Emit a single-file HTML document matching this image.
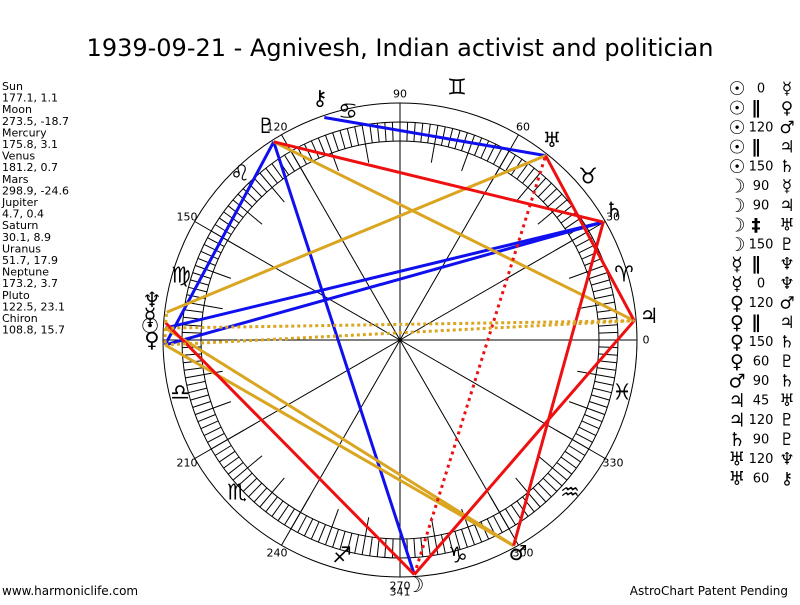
<!DOCTYPE html>
<html><head><meta charset="utf-8"><style>
body{margin:0;background:#fff;width:800px;height:600px;overflow:hidden;font-family:"Liberation Sans","DejaVu Sans",sans-serif}
</style></head><body>
<svg id="s" width="800" height="600" xmlns="http://www.w3.org/2000/svg" font-family="'DejaVu Sans','Liberation Sans',sans-serif">
<text x="400" y="56" font-size="24" text-anchor="middle" fill="#000">1939-09-21 - Agnivesh, Indian activist and politician</text>
<g font-size="11" fill="#000">
<text x="2" y="90">Sun</text><text x="2" y="101.6">177.1, 1.1</text>
<text x="2" y="113.2">Moon</text><text x="2" y="124.8">273.5, -18.7</text>
<text x="2" y="136.4">Mercury</text><text x="2" y="148">175.8, 3.1</text>
<text x="2" y="159.6">Venus</text><text x="2" y="171.2">181.2, 0.7</text>
<text x="2" y="182.8">Mars</text><text x="2" y="194.4">298.9, -24.6</text>
<text x="2" y="206">Jupiter</text><text x="2" y="217.6">4.7, 0.4</text>
<text x="2" y="229.2">Saturn</text><text x="2" y="240.8">30.1, 8.9</text>
<text x="2" y="252.4">Uranus</text><text x="2" y="264">51.7, 17.9</text>
<text x="2" y="275.6">Neptune</text><text x="2" y="287.2">173.2, 3.7</text>
<text x="2" y="298.8">Pluto</text><text x="2" y="310.4">122.5, 23.1</text>
<text x="2" y="322">Chiron</text><text x="2" y="333.6">108.8, 15.7</text>
<text x="2" y="595" font-size="12">www.harmoniclife.com</text>
<text x="788" y="595" font-size="12" text-anchor="end">AstroChart Patent Pending</text>
</g>
<g id="g"></g>
</svg>
<script>
var g=document.getElementById('g'),cx=400,cy=340,h='';
function P(a,r){a=a*Math.PI/180;return [cx+r*Math.cos(a),cy-r*Math.sin(a)];}
function L(a,b,c,w,d){h+='<line x1="'+a[0].toFixed(1)+'" y1="'+a[1].toFixed(1)+'" x2="'+b[0].toFixed(1)+'" y2="'+b[1].toFixed(1)+'" stroke="'+c+'" stroke-width="'+w+'"'+(d?' stroke-dasharray="'+d+'"':'')+'/>';}
function T(p,s,f,extra){h+='<text x="'+p[0].toFixed(1)+'" y="'+p[1].toFixed(1)+'" font-size="'+f+'" text-anchor="middle" dominant-baseline="central" '+(extra||'')+'>'+s+'</text>';}
h+='<circle cx="400" cy="340" r="237" fill="none" stroke="#000"/>';
h+='<circle cx="400" cy="340" r="218" fill="none" stroke="#000"/>';
h+='<circle cx="400" cy="340" r="199" fill="none" stroke="#000"/>';
for(var a=0;a<360;a+=2){ if(a%10==0) L(P(a,180),P(a,218),'#000',1); else L(P(a,199),P(a,218),'#000',1);}
for(var a=0;a<360;a+=30){L(P(a,0),P(a,237),'#000',1);
 if(a!=180) T(P(a,246),String(a),11,'fill="#000"');}
var signs=[['♈',624,275],['♉',588,177],['♊',457,88],['♋',348,112],['♌',240,174],['♍',181,276],['♎',180,393],['♏',237,493],['♐',342,556],['♑',458,556],['♒',570,493],['♓',622,393]];
signs.forEach(function(x){T([x[1],x[2]],x[0]+'\uFE0E',22,'fill="#000"');});
var pl={su:177.1,mo:273.5,me:175.8,ve:181.2,ma:298.9,ju:4.7,sa:30.1,ur:51.7,ne:173.2,pl:122.5,ch:108.8};
var pt={};for(var k in pl)pt[k]=P(pl[k],235);
var B='#1010ee',R='#ee1010',Y='#daa520';
[['su','sa',B],['ve','sa',B],['mo','pl',B],['ve','pl',B],['ur','ch',B],
 ['su','ma',Y],['ve','ma',Y],['ju','pl',Y],['ur','ne',Y],
 ['mo','me',R],['mo','ju',R],['ma','sa',R],['sa','pl',R],['ju','ur',R]].forEach(function(x){L(pt[x[0]],pt[x[1]],x[2],3);});
L(pt.mo,pt.ur,R,3,'3,4');
[['su','ve'],['su','ju'],['ve','ju'],['me','ne']].forEach(function(x){L(pt[x[0]],pt[x[1]],Y,3,'3,3');});
var gl=[['⚷',320,98],['♇',266,126],['♅',552,140],['♄',614,210],['♃',649,316],['♆',152,300],['☿',150,316],['☉',150,326],['♀',152,340],['♂',518,553],['☽',415,585]];
gl.forEach(function(x){T([x[1],x[2]],x[0]+'\uFE0E',21,'fill="#000"');});
T([400,592],'341',11,'fill="#000"');
var rows=[['☉','0','☿'],['☉','∥','♀'],['☉','120','♂'],['☉','∥','♃'],['☉','150','♄'],['☽','90','☿'],['☽','90','♃'],['☽','‡','♅'],['☽','150','♇'],['☿','∥','♆'],['☿','0','♆'],['♀','120','♂'],['♀','∥','♃'],['♀','150','♄'],['♀','60','♇'],['♂','90','♄'],['♃','45','♅'],['♃','120','♇'],['♄','90','♇'],['♅','120','♆'],['♅','60','⚷']];
rows.forEach(function(r,i){var y=89+i*19.5;
 T([737,y],r[0]+'\uFE0E',19,'fill="#000" font-weight="bold"');
 var big=(r[1]=='∥'||r[1]=='‡');
 T([big?756:761,y],r[1],big?18:13,'fill="#000"'+(big?' font-weight="bold"':''));
 T([787,y],r[2]+'\uFE0E',17,'fill="#000"');});
g.innerHTML=h;
</script>
</body></html>
